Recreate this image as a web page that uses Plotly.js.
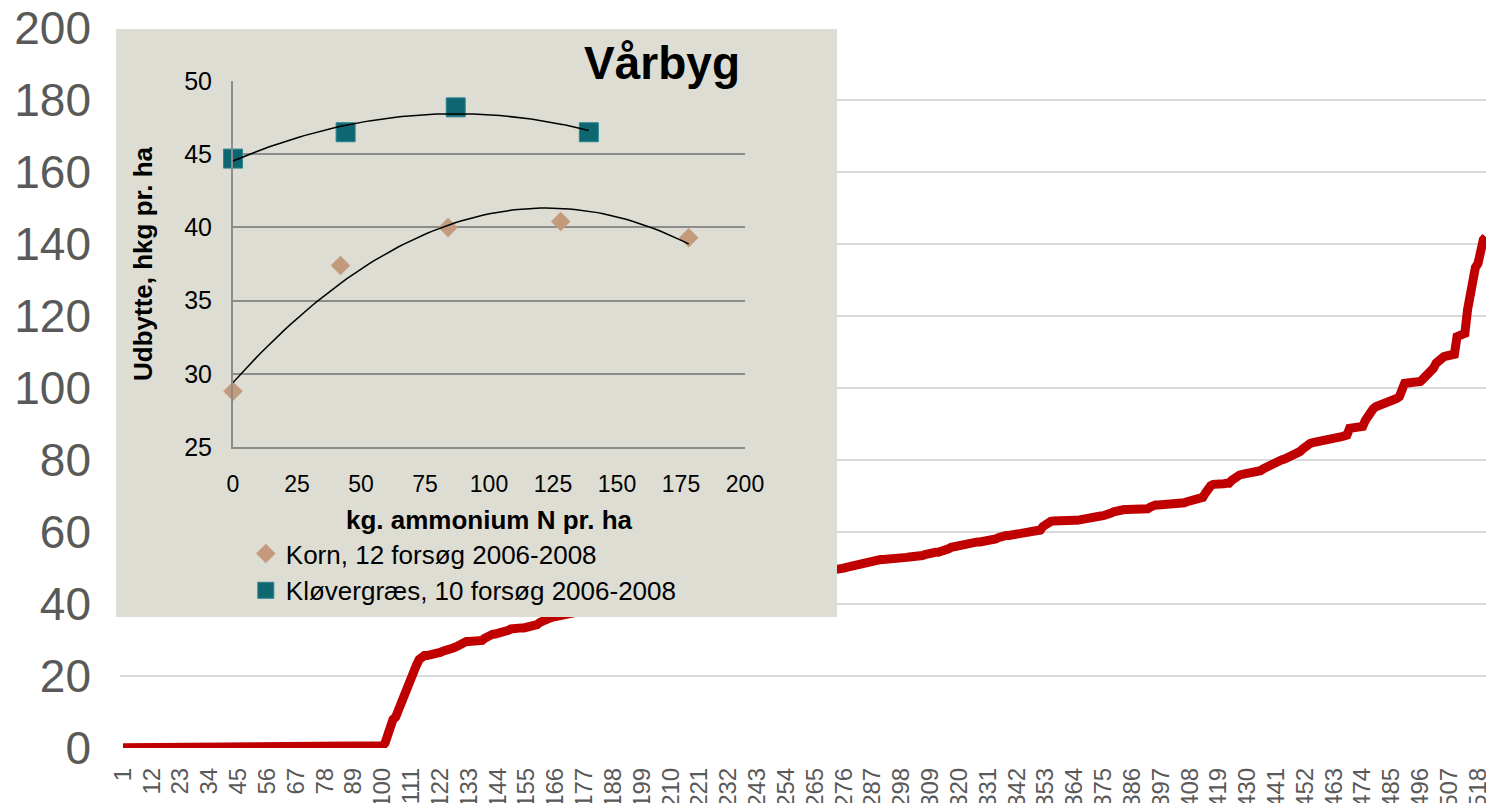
<!DOCTYPE html>
<html><head><meta charset="utf-8">
<script src="https://cdn.plot.ly/plotly-3.0.1.min.js"></script>
<style>
html,body{margin:0;padding:0;background:#fff;}
#wrap{position:relative;width:1486px;height:803px;overflow:hidden;}
#main{position:absolute;left:0;top:0;width:1486px;height:803px;}
#inset{position:absolute;left:116px;top:29px;width:721px;height:588px;}
</style></head><body>
<div id="wrap"><div id="main"></div><div id="inset"></div></div>
<script>
// ---------- main chart data (sorted values, one per category 1..521) ----------
const redValues = [
0,0,0,0,0,0,0,0,0,0,0,0,0,0,0,0,0,0,0,0,
0,0,0,0,0,0,0,0,0,0,0,0,0,0,0,0,0,0,0,0,
0,0,0,0,0,0,0,0,0,0,0,0,0,0,0,0,0,0,0,0,
0,0,0,0,0,0,0,0,0,0,0,0,0,0,0,0,0,0,0,0,
0,0,0,0,0,0,0,0,0,0,0,0,0,0,0,0,0,0,0,
0.5,1.3,4,7,7.8,8.5,10.5,12,14.5,16,18,19.5,21.5,23,24.5,25.5,
25.6,25.6,25.7,25.7,25.8,
26.2,26.5,26.8,27.2,27.3,27.5,27.7,28.0,28.5,28.9,29.3,29.5,
29.5,29.5,29.6,29.6,29.7,29.8,
30.4,30.9,31.3,31.5,
31.6,31.7,31.8,31.9,32.0,
32.6,33.0,
33.2,33.2,33.3,33.3,33.3,33.4,33.4,33.4,33.5,
34.2,34.8,35.3,35.6,
35.9,36.1,36.3,36.5,36.6,36.7,36.8,36.9,
37.1,37.2,37.4,37.6,37.8,38.0,38.1,38.2,38.4,38.6,
38.8,39.0,39.1,39.2,39.3,39.5,39.7,39.9,40.0,40.1,
40.2,40.4,40.6,40.8,41.0,41.1,41.2,41.3,41.5,41.7,
41.9,42.0,42.1,42.2,42.3,42.5,42.7,42.9,43.0,43.1,
43.2,43.3,43.5,43.7,43.8,43.9,44.0,44.1,44.3,44.5,
44.6,44.7,44.8,44.9,45.0,45.2,45.4,45.5,45.6,45.7,
45.8,45.9,46.0,46.2,46.3,46.4,46.5,46.6,46.7,46.8,
46.9,47.0,47.1,47.2,47.3,47.4,47.5,47.6,47.7,47.8,
47.9,48.0,48.0,48.1,48.1,48.2,48.2,48.3,48.3,48.4,
48.4,48.5,48.5,48.6,48.6,48.7,48.7,48.8,48.8,48.9,48.9,49.0,
49.0,49.3,49.6,49.9,50.1,50.3,50.6,50.8,51.0,51.1,51.3,51.4,51.6,
52.0,52.1,52.2,52.2,52.3,52.3,52.3,52.4,52.4,52.4,52.5,52.6,
52.8,52.9,52.9,53.0,53.0,53.0,53.1,53.2,53.4,
53.7,54.0,
54.2,54.3,54.3,54.3,54.4,54.5,
54.9,55.3,55.7,
55.9,56.1,56.3,56.5,56.7,56.9,57.1,
57.1,57.2,57.2,57.2,57.3,57.3,57.3,57.4,
57.6,58.0,58.4,58.8,
58.9,59.0,59.0,59.1,59.1,59.2,59.2,59.3,59.4,
59.5,59.6,59.7,59.8,59.9,
60.5,61.5,62.2,62.6,62.9,63.0,
63.1,63.1,63.1,63.1,63.1,63.1,63.2,63.2,63.2,
63.4,63.6,63.8,64.0,
64.1,64.2,64.3,64.3,64.4,64.5,64.6,64.7,
65.2,65.6,65.9,66.1,
66.2,66.2,66.2,66.2,66.2,66.3,66.3,66.3,66.3,66.3,66.4,
66.9,
67.4,67.5,67.5,67.5,67.5,67.5,67.5,67.5,67.6,67.6,67.7,
67.9,68.1,68.4,68.6,68.8,69.0,69.2,69.4,69.6,
70.8,72.3,72.8,73.2,
73.4,73.4,73.4,73.4,73.5,73.5,
74.3,75.1,75.5,75.8,76.0,
76.1,76.2,76.3,76.3,76.4,76.5,
77.0,77.5,77.9,78.5,79.0,79.4,
79.6,79.8,80.0,80.2,80.5,80.9,
81.3,81.6,82.0,82.3,83.0,83.8,84.3,84.6,
84.8,84.9,85.1,85.3,85.4,85.6,
85.8,86.0,86.1,86.2,86.4,86.5,86.7,86.9,
88.8,
88.9,89.0,89.1,89.2,89.3,
91.0,92.5,93.4,94.2,94.8,
95.1,95.3,95.4,95.5,95.7,
96.2,96.6,97.1,97.6,
100.5,
101.3,101.4,101.4,101.5,101.5,101.6,101.8,
102.5,103.3,103.8,104.1,
105.5,106.9,107.8,108.4,108.7,
108.9,109.0,109.2,109.4,
114.3,114.6,114.9,115.2,
121.7,127.0,131.9,133.5,134.6,
140.2,141.2,142.0
];
const categories = redValues.map((v, i) => i + 1);
const xTickLabels = [1,12,23,34,45,56,67,78,89,100,111,122,133,144,155,166,177,188,199,210,221,232,243,254,265,276,287,298,309,320,331,342,353,364,375,386,397,408,419,430,441,452,463,474,485,496,507,518];
const yTickLabels = [0,20,40,60,80,100,120,140,160,180,200];

// ---------- inset data ----------
const insetTitle = 'Vårbyg';
const kornName = 'Korn, 12 forsøg 2006-2008';
const kornN = [0, 42, 84, 128, 178];
const kornYield = [28.8, 37.4, 40.0, 40.4, 39.3];
const kloverName = 'Kløvergræs, 10 forsøg 2006-2008';
const kloverN = [0, 44, 87, 139];
const kloverYield = [44.7, 46.5, 48.2, 46.5];
const insetXTicks = [0,25,50,75,100,125,150,175,200];
const insetYTicks = [25,30,35,40,45,50];

// quadratic least-squares trendline (as Excel's polynomial order 2)
function quadFit(xs, ys) {
  const S = [0,0,0,0,0], T = [0,0,0];
  for (let i = 0; i < xs.length; i++) {
    let p = 1;
    for (let k = 0; k <= 4; k++) { S[k] += p; if (k <= 2) T[k] += p * ys[i]; p *= xs[i]; }
  }
  const A = [[S[0],S[1],S[2],T[0]],[S[1],S[2],S[3],T[1]],[S[2],S[3],S[4],T[2]]];
  for (let c = 0; c < 3; c++) {
    for (let r = c + 1; r < 3; r++) {
      const f = A[r][c] / A[c][c];
      for (let k = c; k < 4; k++) A[r][k] -= f * A[c][k];
    }
  }
  const a = [0,0,0];
  for (let r = 2; r >= 0; r--) {
    let s = A[r][3];
    for (let k = r + 1; k < 3; k++) s -= A[r][k] * a[k];
    a[r] = s / A[r][r];
  }
  return a;
}
function trend(xs, ys) {
  const a = quadFit(xs, ys);
  const x0 = Math.min(...xs), x1 = Math.max(...xs);
  const tx = [], ty = [];
  for (let i = 0; i <= 80; i++) {
    const x = x0 + (x1 - x0) * i / 80;
    tx.push(x); ty.push(a[0] + a[1] * x + a[2] * x * x);
  }
  return {tx, ty};
}

const FONT = '"Liberation Sans", Arial, Helvetica, sans-serif';

// ---------- main chart ----------
Plotly.newPlot('main', [{
  type: 'scatter', mode: 'lines',
  x: categories, y: redValues,
  line: {color: '#C00000', width: 9},
  hoverinfo: 'skip', showlegend: false
}], {
  width: 1486, height: 803,
  margin: {l: 120, r: 0, t: 28, b: 55, autoexpand: false},
  paper_bgcolor: '#ffffff', plot_bgcolor: '#ffffff',
  showlegend: false,
  font: {family: FONT, color: '#595959'},
  xaxis: {
    range: [-0.15, 521.05], tickmode: 'array', tickvals: xTickLabels,
    ticktext: xTickLabels.map(String), tickangle: -90,
    tickfont: {size: 24, color: '#595959', family: FONT},
    showgrid: false, zeroline: false, showline: false, ticks: '',
    ticklabelstandoff: 14, ticklabeloverflow: 'allow', automargin: false
  },
  yaxis: {
    range: [-0.1, 200.1], tickmode: 'array', tickvals: yTickLabels,
    ticktext: yTickLabels.map(String),
    tickfont: {size: 46, color: '#595959', family: FONT},
    showgrid: true, gridcolor: '#D9D9D9', gridwidth: 2,
    zeroline: false, showline: false, ticks: '',
    ticklabelstandoff: 28, ticklabeloverflow: 'allow', automargin: false
  }
}, {displayModeBar: false});

// ---------- inset chart ----------
const kT = trend(kornN, kornYield);
const cT = trend(kloverN, kloverYield);
Plotly.newPlot('inset', [
  {type: 'scatter', mode: 'markers', name: kornName, x: kornN, y: kornYield, cliponaxis: false,
   marker: {symbol: 'diamond', size: 15, color: '#C49A7C'}, hoverinfo: 'skip'},
  {type: 'scatter', mode: 'markers', name: kloverName, x: kloverN, y: kloverYield, cliponaxis: false,
   marker: {symbol: 'square', size: 19, color: '#0E6670', line: {color: '#2A8790', width: 1}}, hoverinfo: 'skip'},
  {type: 'scatter', mode: 'lines', x: kT.tx, y: kT.ty, line: {color: '#000', width: 1.5},
   showlegend: false, hoverinfo: 'skip'},
  {type: 'scatter', mode: 'lines', x: cT.tx, y: cT.ty, line: {color: '#000', width: 1.5},
   showlegend: false, hoverinfo: 'skip'}
], {
  width: 721, height: 588,
  margin: {l: 117, r: 92, t: 52, b: 170, autoexpand: false},
  paper_bgcolor: '#DDDDD3', plot_bgcolor: '#DDDDD3',
  font: {family: FONT, color: '#000'},
  title: {text: insetTitle, font: {family: FONT, size: 46, weight: 700, color: '#000'},
          xref: 'container', x: 0.8655, xanchor: 'right',
          yref: 'container', y: 0.9423, yanchor: 'middle'},
  xaxis: {
    range: [0, 200], tickmode: 'array', tickvals: insetXTicks, ticktext: insetXTicks.map(String),
    tickfont: {size: 23, color: '#000'}, showgrid: false, zeroline: false,
    showline: true, linecolor: '#8C8C8C', linewidth: 2, ticks: '', ticklabelstandoff: 15,
    automargin: false,
    title: {text: 'kg. ammonium N pr. ha', font: {size: 26, weight: 700, color: '#000'}, standoff: 15}
  },
  yaxis: {
    range: [25, 50], tickmode: 'array', tickvals: insetYTicks, ticktext: insetYTicks.map(String),
    tickfont: {size: 25, color: '#000'}, showgrid: true, gridcolor: '#8C8C8C', gridwidth: 2,
    zeroline: false, showline: true, linecolor: '#8C8C8C', linewidth: 2, ticks: '', ticklabelstandoff: 14,
    automargin: false,
    title: {text: 'Udbytte, hkg pr. ha', font: {size: 26, weight: 700, color: '#000'}, standoff: 24}
  },
  showlegend: true,
  legend: {x: 0.025, xanchor: 'left', y: -0.227, yanchor: 'top', bgcolor: 'rgba(0,0,0,0)',
           font: {size: 26, color: '#000'}, traceorder: 'normal', borderwidth: 0}
}, {displayModeBar: false});
</script>
</body></html>
